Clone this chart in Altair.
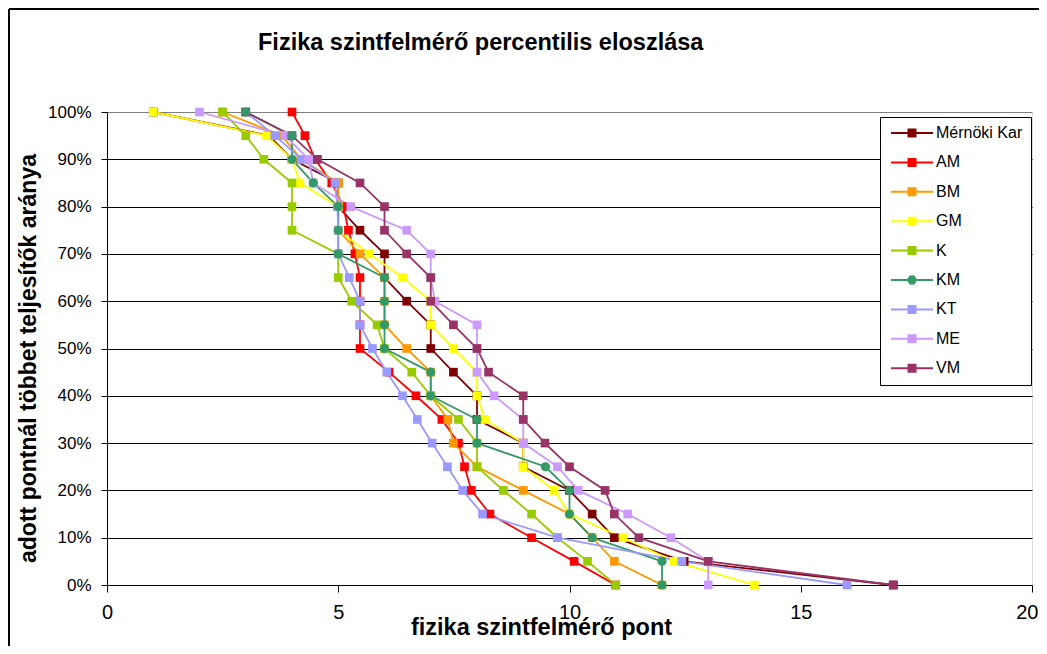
import altair as alt
import pandas as pd

levels = [100, 95, 90, 85, 80, 75, 70, 65, 60, 55, 50, 45, 40, 35, 30, 25, 20, 15, 10, 5, 0]

series_names = ["Mérnöki Kar", "AM", "BM", "GM", "K", "KM", "KT", "ME", "VM"]
series_colors = ["#800000", "#FF0000", "#FF9900", "#FFFF00", "#99CC00", "#339966", "#9999FF", "#CC99FF", "#993366"]

mernoki_kar = [1, 3.5, 4, 5, 5, 5.47, 6, 6, 6.48, 7, 7, 7.49, 8, 8, 9, 9, 10, 10.49, 10.97, 12.48, 17]
am = [4, 4.28, 4.5, 4.86, 5.11, 5.22, 5.36, 5.47, 5.47, 5.47, 5.47, 6.1, 6.68, 7.24, 7.6, 7.73, 7.88, 8.28, 9.18, 10.1, 11]
bm = [2.5, 3.78, 4.2, 5, 5, 5, 5.47, 6, 6, 6, 6.48, 7, 7, 7.37, 7.49, 8, 9, 10, 10.49, 10.97, 12]
gm = [1, 3.45, 4, 4.17, 5, 5, 5.67, 6.39, 7, 7, 7.49, 8, 8, 8.17, 9, 9, 9.67, 10, 11.16, 12.26, 14]
k = [2.5, 3, 3.39, 4, 4, 4, 5, 5, 5.29, 5.84, 6, 6.59, 7, 7.6, 8, 8, 8.57, 9.18, 9.74, 10.39, 11]
km = [3, 4, 4, 4.46, 5, 5, 5, 6, 6, 6, 6, 7, 7, 8, 8, 9.48, 10, 10, 10.49, 12, 12]
kt = [3, 3.63, 4.21, 4.93, 4.98, 5, 5, 5.24, 5.47, 5.47, 5.74, 6.05, 6.39, 6.71, 7.03, 7.36, 7.69, 8.12, 9.74, 12.43, 16]
me = [2, 3.85, 4.36, 4.46, 5.27, 6.48, 7, 7, 7.09, 8, 8, 8, 8.37, 9, 9, 9.74, 10.19, 11.26, 12.19, 13, 13]
vm = [3, 4, 4.55, 5.47, 6, 6, 6.48, 7, 7, 7.49, 8, 8.25, 9, 9, 9.47, 10, 10.77, 10.97, 11.5, 13, 17]

series_values = [mernoki_kar, am, bm, gm, k, km, kt, me, vm]

x_ticks = [0, 5, 10, 15, 20]
y_ticks = [0, 0.1, 0.2, 0.3, 0.4, 0.5, 0.6, 0.7, 0.8, 0.9, 1.0]

rows = []
for s_i, (name, vals) in enumerate(zip(series_names, series_values)):
    for i, (lv, v) in enumerate(zip(levels, vals)):
        rows.append({"series": name, "sorder": s_i, "idx": i, "pont": v, "arany": lv / 100})
df = pd.DataFrame(rows)

FONT = "Liberation Sans"

color_scale = alt.Scale(domain=series_names, range=series_colors)

# legend symbols: a line with a marker, drawn with strokes only
sq = ("M-4.2,0H4.2"
      "M-0.9,-0.7H0.9M-0.9,-0.35H0.9M-0.9,0H0.9M-0.9,0.35H0.9M-0.9,0.7H0.9")
ci = ("M-4.2,0H4.2"
      "M-0.57,-0.7H0.57M-0.83,-0.35H0.83M-0.9,0H0.9M-0.83,0.35H0.83M-0.57,0.7H0.57")
legend_shape_scale = alt.Scale(domain=series_names, range=[ci if s == "KM" else sq for s in series_names])

x_enc = alt.X("pont:Q", scale=alt.Scale(domain=[0, 20], nice=False, zero=False),
              axis=alt.Axis(values=x_ticks, title="fizika szintfelmérő pont", grid=False,
                            tickSize=7, tickColor="#000", domainColor="#000", labelFlush=False,
                            labelAlign={"condition": {"test": "datum.value >= 20", "value": "right"},
                                        "value": "center"},
                            labelOffset={"condition": {"test": "datum.value >= 20", "value": 6},
                                         "value": 0},
                            labelFontSize=20, labelFont=FONT, labelColor="#000", labelPadding=10,
                            titleFontSize=23.5, titleFont=FONT, titleFontWeight="bold", titleColor="#000",
                            titleX=434, titleY=49, titleBaseline="alphabetic", titleAlign="center"))
y_enc = alt.Y("arany:Q", scale=alt.Scale(domain=[0, 1], nice=False),
              axis=alt.Axis(values=y_ticks, format=".0%", title="adott pontnál többet teljesítők aránya",
                            grid=True, gridWidth=1,
                            gridColor={"condition": {"test": "datum.value >= 1", "value": "#808080"},
                                       "value": "#000"},
                            tickSize=6, tickColor="#000", domainColor="#000",
                            labelFontSize=17, labelFont=FONT, labelColor="#000", labelPadding=10,
                            titleFontSize=23, titleFont=FONT, titleFontWeight="bold", titleColor="#000",
                            titleX=-72, titleY=246, titleBaseline="alphabetic", titleAlign="center",
                            titleAngle=270))

legend = alt.Legend(
    title=None, orient="none", legendX=773, legendY=5,
    fillColor="#fff", strokeColor="#000", padding=8,
    labelFont=FONT, labelFontSize=16, labelColor="#000",
    symbolSize=100, symbolStrokeWidth=2, symbolOpacity=1,
    rowPadding=13.4, labelOffset=16, symbolOffset=16,
)

base = alt.Chart(df)

lines = base.mark_line(strokeWidth=1.8).encode(
    x=x_enc, y=y_enc,
    color=alt.Color("series:N", scale=color_scale),
    order=alt.Order("idx:Q"),
    detail="series:N",
)

squares = base.transform_filter(alt.datum.series != "KM").mark_square(opacity=1, size=75).encode(
    x="pont:Q", y="arany:Q",
    color=alt.Color("series:N", scale=color_scale),
    order=alt.Order("sorder:Q"),
)
circles = base.transform_filter(alt.datum.series == "KM").mark_circle(opacity=1, size=85).encode(
    x="pont:Q", y="arany:Q",
    color=alt.Color("series:N", scale=color_scale),
)

legend_layer = base.mark_point(filled=False, opacity=0, strokeWidth=2).encode(
    x="pont:Q", y="arany:Q",
    color=alt.Color("series:N", scale=color_scale, legend=legend),
    shape=alt.Shape("series:N", scale=legend_shape_scale, legend=legend),
)

frame_df = pd.DataFrame({"a": [0]})
frame_left = alt.Chart(frame_df).mark_rule(color="#000", strokeWidth=2).encode(
    x=alt.value(-98), y=alt.value(-103), y2=alt.value(560))
frame_top = alt.Chart(frame_df).mark_rule(color="#000", strokeWidth=2).encode(
    x=alt.value(-98), x2=alt.value(940), y=alt.value(-103))

chart = alt.layer(lines, squares, circles, legend_layer, frame_left, frame_top).properties(
    width=925, height=473,
    title=alt.TitleParams("Fizika szintfelmérő percentilis eloszlása", anchor="start", frame="group",
                          dx=151, offset=-65, fontSize=23.5, font=FONT, fontWeight="bold", color="#000",
                          baseline="alphabetic"),
    autosize=alt.AutoSizeParams(type="none"),
    padding={"left": 99, "top": 104, "right": 7, "bottom": 61},
).configure_view(stroke="#808080", strokeWidth=1).configure(background="#fff")

chart.save("out.html", embed_options={"renderer": "svg", "actions": False})
